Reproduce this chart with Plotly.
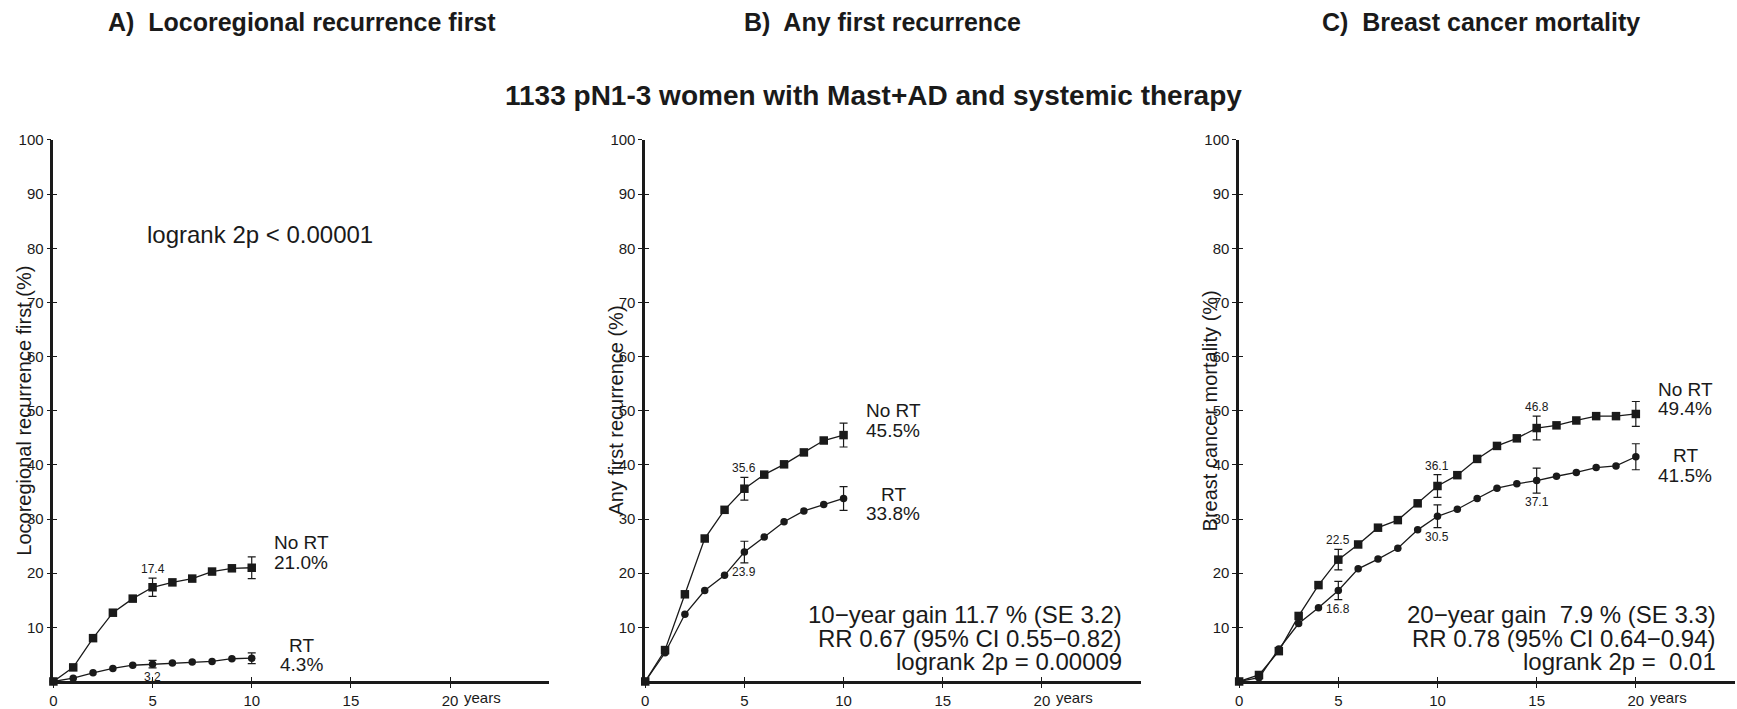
import plotly.graph_objects as go

# ---------------- data ----------------
years_10 = list(range(0, 11))
years_20 = list(range(0, 21))

lrr_no_rt = [0, 2.6, 8.0, 12.7, 15.3, 17.4, 18.3, 19.0, 20.3, 20.9, 21.0]
lrr_rt = [0, 0.6, 1.6, 2.4, 3.0, 3.2, 3.4, 3.6, 3.7, 4.2, 4.3]
lrr_se_years = [5, 10]
lrr_se_no_rt = [1.7, 2.0]
lrr_se_rt = [0.7, 1.0]

any_no_rt = [0, 5.8, 16.1, 26.4, 31.7, 35.6, 38.2, 40.1, 42.3, 44.5, 45.5]
any_rt = [0, 5.3, 12.4, 16.8, 19.6, 23.9, 26.7, 29.5, 31.5, 32.7, 33.8]
any_se_years = [5, 10]
any_se_no_rt = [2.1, 2.2]
any_se_rt = [2.0, 2.2]

bcm_no_rt = [0, 1.2, 5.6, 12.1, 17.8, 22.5, 25.3, 28.4, 29.8, 32.9, 36.1,
             38.1, 41.1, 43.5, 44.9, 46.8, 47.3, 48.2, 49.0, 49.0, 49.4]
bcm_rt = [0, 0.7, 6.0, 10.7, 13.6, 16.8, 20.8, 22.6, 24.6, 28.0, 30.5,
          31.8, 33.8, 35.7, 36.5, 37.1, 37.9, 38.6, 39.5, 39.8, 41.5]
bcm_se_years = [5, 10, 15, 20]
bcm_se_no_rt = [1.9, 2.1, 2.2, 2.3]
bcm_se_rt = [1.7, 2.1, 2.3, 2.4]

x_tickvals = [0, 5, 10, 15, 20]
x_ticktext = ["0", "5", "10", "15", "20"]
y_tickvals = [10, 20, 30, 40, 50, 60, 70, 80, 90, 100]

titles = ["A)  Locoregional recurrence first", "B)  Any first recurrence", "C)  Breast cancer mortality"]
ytitles = ["Locoregional recurrence first (%)", "Any first recurrence (%)", "Breast cancer mortality (%)"]
subtitle = "1133 pN1-3 women with Mast+AD and systemic therapy"

# ---------------- style ----------------
FONT = "Liberation Sans, Arial, Helvetica, sans-serif"
INK = "#1a1a1a"
W, H = 1737, 709
X0 = [49.5, 642.7, 1238.0]     # pixel of x=0 per panel
XSPAN = 497.0                 # pixels for 25 years
Y0, Y100 = 688.0, 134.0
TICKFONT = 15

fig = go.Figure()

panels = [
    dict(years=years_10, no=lrr_no_rt, rt=lrr_rt, sey=lrr_se_years, seno=lrr_se_no_rt, sert=lrr_se_rt,
         lab_x=12.5, no_lab=(25.6, 21.9), rt_lab=(6.7, 3.1), end=10),
    dict(years=years_10, no=any_no_rt, rt=any_rt, sey=any_se_years, seno=any_se_no_rt, sert=any_se_rt,
         lab_x=12.5, no_lab=(50.0, 46.4), rt_lab=(34.6, 31.0), end=10),
    dict(years=years_20, no=bcm_no_rt, rt=bcm_rt, sey=bcm_se_years, seno=bcm_se_no_rt, sert=bcm_se_rt,
         lab_x=22.5, no_lab=(54.0, 50.4), rt_lab=(41.7, 38.1), end=20),
]

annotations = []
layout_axes = {}
for i, p in enumerate(panels):
    n = "" if i == 0 else str(i + 1)
    xr, yr = "x" + n, "y" + n
    line = dict(color=INK, width=1.3)
    # curves
    fig.add_trace(go.Scatter(x=p["years"], y=p["no"], xaxis=xr, yaxis=yr, mode="lines+markers",
                             line=line, marker=dict(symbol="square", size=8.5, color=INK),
                             cliponaxis=False, showlegend=False, hoverinfo="skip"))
    fig.add_trace(go.Scatter(x=p["years"], y=p["rt"], xaxis=xr, yaxis=yr, mode="lines+markers",
                             line=line, marker=dict(symbol="circle", size=7.5, color=INK),
                             cliponaxis=False, showlegend=False, hoverinfo="skip"))
    # error bars at selected years
    for vals, ses in ((p["no"], p["seno"]), (p["rt"], p["sert"])):
        ys = [vals[p["years"].index(yv)] for yv in p["sey"]]
        fig.add_trace(go.Scatter(x=p["sey"], y=ys, xaxis=xr, yaxis=yr, mode="markers",
                                 marker=dict(size=1, color="rgba(0,0,0,0)"),
                                 error_y=dict(type="data", array=ses, visible=True, color=INK,
                                              thickness=1.2, width=4),
                                 cliponaxis=False, showlegend=False, hoverinfo="skip"))
    # value labels at the error bar ends (skip the final point)
    for yv, se in zip(p["sey"], p["seno"]):
        if yv == p["end"]:
            continue
        v = p["no"][p["years"].index(yv)]
        annotations.append(dict(x=yv, y=v + se, xref=xr, yref=yr, text=f"{v:.1f}", showarrow=False,
                                yanchor="bottom", yshift=0, font=dict(size=12, color=INK, family=FONT)))
    for yv, se in zip(p["sey"], p["sert"]):
        if yv == p["end"]:
            continue
        v = p["rt"][p["years"].index(yv)]
        annotations.append(dict(x=yv, y=v - se, xref=xr, yref=yr, text=f"{v:.1f}", showarrow=False,
                                yanchor="top", yshift=0, font=dict(size=12, color=INK, family=FONT)))
    # group labels
    fno = p["no"][-1]
    frt = p["rt"][-1]
    for txt, yy in (("No RT", p["no_lab"][0]), (f"{fno:.1f}%", p["no_lab"][1]),
                    ("RT", p["rt_lab"][0]), (f"{frt:.1f}%", p["rt_lab"][1])):
        annotations.append(dict(x=p["lab_x"], y=yy, xref=xr, yref=yr, text=txt, showarrow=False,
                                xanchor="center", yanchor="middle",
                                font=dict(size=19, color=INK, family=FONT)))
    # "years" after the 20 tick label
    annotations.append(dict(x=20, y=0, xref=xr, yref=yr, text="years", showarrow=False,
                            xanchor="left", yanchor="top", xshift=12, yshift=-6,
                            font=dict(size=TICKFONT, color=INK, family=FONT)))
    # y axis title
    annotations.append(dict(x=(X0[i] - 29.5) / W, y=(H - (Y0 + Y100) / 2) / H, xref="paper", yref="paper",
                            text=ytitles[i], textangle=-90, showarrow=False,
                            xanchor="center", yanchor="middle",
                            font=dict(size=20, color=INK, family=FONT)))
    # panel title
    annotations.append(dict(x=[299, 881, 1480][i] / W, y=1 - 13 / H, xref="paper", yref="paper",
                            text="<b>" + titles[i] + "</b>", showarrow=False,
                            xanchor="center", yanchor="middle",
                            font=dict(size=25, color=INK, family=FONT)))

    dom_x = [X0[i] / W, (X0[i] + XSPAN) / W]
    dom_y = [(H - Y0) / H, (H - Y100) / H]
    common_x = dict(domain=dom_x, range=[0, 25], tickvals=x_tickvals, showgrid=False, zeroline=False)
    common_y = dict(domain=dom_y, range=[0, 100], tickvals=y_tickvals, showgrid=False, zeroline=False)
    layout_axes["xaxis" + n] = dict(**common_x, anchor=yr, ticktext=x_ticktext, showline=True,
                                    linecolor=INK, linewidth=2.5, ticks="outside", ticklen=4,
                                    tickwidth=1.3, tickcolor=INK,
                                    tickfont=dict(size=TICKFONT, color=INK, family=FONT))
    layout_axes["yaxis" + n] = dict(**common_y, anchor=xr, showline=True, linecolor=INK, linewidth=2.5,
                                    ticks="outside", ticklen=4, tickwidth=1.3, tickcolor=INK,
                                    tickfont=dict(size=TICKFONT, color=INK, family=FONT))
    # overlay axes to give ticks that cross the axis line
    ox, oy = "x" + str(i + 4), "y" + str(i + 4)
    layout_axes["xaxis" + str(i + 4)] = dict(range=[0, 25], tickvals=x_tickvals, overlaying=xr, anchor=yr,
                                             showticklabels=False, ticks="inside", ticklen=4, tickwidth=1.3,
                                             tickcolor=INK, showgrid=False, zeroline=False, showline=False)
    layout_axes["yaxis" + str(i + 4)] = dict(range=[0, 100], tickvals=y_tickvals, overlaying=yr, anchor=xr,
                                             showticklabels=False, ticks="inside", ticklen=4, tickwidth=1.3,
                                             tickcolor=INK, showgrid=False, zeroline=False, showline=False)
    fig.add_trace(go.Scatter(x=[None], y=[None], xaxis=ox, yaxis=yr, showlegend=False, hoverinfo="skip"))
    fig.add_trace(go.Scatter(x=[None], y=[None], xaxis=xr, yaxis=oy, showlegend=False, hoverinfo="skip"))

# statistics text
annotations.append(dict(x=10.4, y=82.5, xref="x", yref="y", text="logrank 2p < 0.00001", showarrow=False,
                        xanchor="center", yanchor="middle", font=dict(size=24, color=INK, family=FONT)))
stats = [
    ("x2", "y2", ["10\u2212year gain 11.7 % (SE 3.2)", "RR 0.67 (95% CI 0.55\u22120.82)", "logrank 2p = 0.00009"]),
    ("x3", "y3", ["20\u2212year gain\u00a0 7.9 % (SE 3.3)", "RR 0.78 (95% CI 0.64\u22120.94)", "logrank 2p =\u00a0 0.01"]),
]
for xr, yr, lines in stats:
    for txt, yy in zip(lines, [12.3, 7.95, 3.6]):
        annotations.append(dict(x=24.1, y=yy, xref=xr, yref=yr, text=txt, showarrow=False,
                                xanchor="right", yanchor="middle", borderpad=0,
                                font=dict(size=24, color=INK, family=FONT)))

annotations.append(dict(x=872 / W, y=1 - 89 / H, xref="paper", yref="paper", text="<b>" + subtitle + "</b>",
                        showarrow=False, xanchor="center", yanchor="middle",
                        font=dict(size=28, color=INK, family=FONT)))

fig.update_layout(width=W, height=H, margin=dict(l=0, r=0, t=0, b=0), paper_bgcolor="white",
                  plot_bgcolor="white", annotations=annotations, font=dict(family=FONT, color=INK),
                  **layout_axes)

fig.write_html("out.html")
